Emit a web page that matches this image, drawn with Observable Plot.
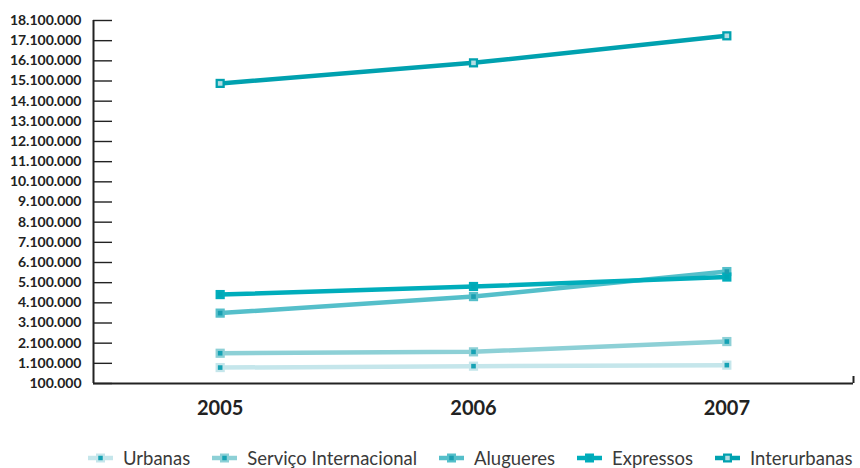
<!DOCTYPE html>
<html>
<head>
<meta charset="utf-8">
<script src="https://cdn.jsdelivr.net/npm/d3@7"></script>
<script src="https://cdn.jsdelivr.net/npm/@observablehq/plot@0.6"></script>
<style>
  html, body { margin: 0; padding: 0; background: #fff; }
  body { width: 860px; height: 468px; overflow: hidden; font-family: Lato, "Open Sans", sans-serif; }
  #legend { display: flex; align-items: center; margin-left: 88px; margin-top: 17px; height: 22px; gap: 22px; }
  .item { display: flex; align-items: center; font-size: 18.5px; color: #3a3a3a; white-space: nowrap; }
  .item svg { margin-right: 10px; }
</style>
</head>
<body>
<div id="chart"></div>
<div id="legend"></div>
<script>
// ---- data ----
const years = [2005, 2006, 2007];
const seriesNames = ["Urbanas", "Serviço Internacional", "Alugueres", "Expressos", "Interurbanas"];
const urbanas = [890000, 960000, 1010000];
const servicoInternacional = [1600000, 1670000, 2180000];
const alugueres = [3590000, 4410000, 5650000];
const expressos = [4510000, 4910000, 5380000];
const interurbanas = [14980000, 16000000, 17340000];
const yTicks = [100000, 1100000, 2100000, 3100000, 4100000, 5100000, 6100000, 7100000, 8100000,
  9100000, 10100000, 11100000, 12100000, 13100000, 14100000, 15100000, 16100000, 17100000, 18100000];

// ---- styles ----
const lineColors = ["#c5e6eb", "#8dd0d6", "#55bfca", "#00adbb", "#00a1af"];
const innerColors = ["#16a2b4", "#16a2b4", "#1a9fb1", "#00a8b6", "#b3dde3"];

const seriesValues = [urbanas, servicoInternacional, alugueres, expressos, interurbanas];
const table = [];
seriesNames.forEach((s, i) => years.forEach((y, j) => table.push({series: s, year: y, value: seriesValues[i][j], idx: i})));

const fmt = v => d3.format(",")(v).replace(/,/g, ".");
const ink = "#222";

const chart = Plot.plot({
  width: 860,
  height: 430,
  marginLeft: 93,
  marginRight: 7,
  marginTop: 20,
  marginBottom: 47,
  style: {fontFamily: "Lato, 'Open Sans', sans-serif", background: "#fff"},
  x: {type: "linear", domain: [years[0] - 0.5, years[years.length - 1] + 0.5]},
  y: {domain: [yTicks[0], yTicks[yTicks.length - 1]]},
  color: {domain: seriesNames, range: lineColors},
  marks: [
    Plot.tickY(yTicks, {y: d => d, insetRight: 741, stroke: ink, strokeWidth: 1.4}),
    Plot.ruleX([years[0] - 0.5], {stroke: ink, strokeWidth: 2}),
    Plot.ruleY([yTicks[0]], {stroke: ink, strokeWidth: 2}),
    Plot.ruleX([years[years.length - 1] + 0.5], {insetTop: 356, stroke: ink, strokeWidth: 2}),
    Plot.axisY({ticks: yTicks, tickSize: 0, tickPadding: 12, tickFormat: fmt, fontSize: 14, fontWeight: "bold", fill: ink, label: null}),
    Plot.axisX({ticks: years, tickSize: 0, tickPadding: 17, tickFormat: d => String(d), fontSize: 20, fontWeight: "bold", fill: ink, label: null}),
    Plot.line(table, {x: "year", y: "value", z: "series", stroke: "series", strokeWidth: 4.5}),
    Plot.dot(table, {x: "year", y: "value", symbol: "square", r: 5.2, fill: d => lineColors[d.idx], stroke: null}),
    Plot.dot(table, {x: "year", y: "value", symbol: "square", r: 2.6, fill: d => innerColors[d.idx], stroke: null})
  ]
});
document.getElementById("chart").appendChild(chart);

// ---- legend ----
const legend = document.getElementById("legend");
seriesNames.forEach((s, i) => {
  const item = document.createElement("div");
  item.className = "item";
  item.innerHTML = `<svg width="25" height="12" viewBox="0 0 25 12">
    <line x1="0" x2="25" y1="6" y2="6" stroke="${lineColors[i]}" stroke-width="4.5"/>
    <rect x="8" y="1.5" width="9" height="9" fill="${lineColors[i]}"/>
    <rect x="10.25" y="3.75" width="4.5" height="4.5" fill="${innerColors[i]}"/>
  </svg><span>${s}</span>`;
  legend.appendChild(item);
});
</script>
</body>
</html>
